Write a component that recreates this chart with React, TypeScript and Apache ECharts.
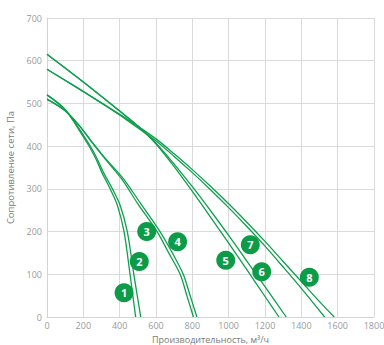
import React, { useEffect, useRef } from "react";
import * as echarts from "echarts";

const xTicks = [0, 200, 400, 600, 800, 1000, 1200, 1400, 1600, 1800];
const yTicks = [0, 100, 200, 300, 400, 500, 600, 700];

const curve1 = [[0, 520], [100, 485], [200, 422], [260, 378], [308, 333], [350, 298], [387, 262], [424, 200], [457, 100], [488, 0]];
const curve2 = [[0, 520], [100, 486], [200, 426], [260, 384], [315, 335], [360, 300], [402, 262], [442, 200], [478, 100], [516, 0]];
const curve3 = [[0, 510], [100, 483], [180, 447], [240, 413], [320, 370], [413, 322], [500, 265], [606, 200], [670, 150], [733, 100], [770, 50], [806, 0]];
const curve4 = [[0, 510], [100, 483], [180, 447], [240, 414], [320, 372], [420, 324], [515, 266], [622, 200], [690, 150], [750, 100], [788, 50], [825, 0]];
const curve5 = [[0, 615], [200, 550], [400, 482], [500, 447], [600, 405], [700, 352], [800, 294], [900, 234], [1000, 173], [1100, 111], [1200, 48], [1277, 0]];
const curve6 = [[0, 615], [200, 550], [400, 482], [500, 447], [600, 407], [700, 358], [800, 305], [900, 249], [1000, 191], [1100, 131], [1200, 71], [1317, 0]];
const curve7 = [[0, 580], [150, 541], [320, 495], [450, 458], [600, 412], [700, 376], [800, 338], [900, 298], [1000, 256], [1100, 212], [1200, 166], [1300, 117], [1400, 67], [1528, 0]];
const curve8 = [[0, 580], [150, 541], [320, 496], [450, 461], [600, 417], [700, 382], [800, 345], [900, 306], [1000, 265], [1100, 222], [1200, 177], [1300, 130], [1400, 83], [1500, 36], [1581, 0]];
const curves = [curve1, curve2, curve3, curve4, curve5, curve6, curve7, curve8];

const labelNames = ["1", "2", "3", "4", "5", "6", "7", "8"];
const labelX = [424, 508, 549, 719, 984, 1182, 1119, 1444];
const labelY = [57, 130, 200, 176, 133, 106, 169, 93];

const LINE = "#0da04c";
const BADGE = "#0c9c48";
const FONT = "Open Sans, Noto Sans, sans-serif";

export default function App() {
  const ref = useRef<HTMLDivElement>(null);
  useEffect(() => {
    if (!ref.current) return;
    const chart = echarts.init(ref.current, undefined, { renderer: "svg" });
    const series: any[] = curves.map((c) => ({
      type: "line",
      data: c,
      smooth: 0.3,
      showSymbol: false,
      symbol: "none",
      lineStyle: { color: LINE, width: 1.3 },
      z: 2,
    }));
    series.push({
      type: "scatter",
      data: labelNames.map((n, i) => ({ value: [labelX[i], labelY[i]], name: n })),
      symbol: "circle",
      symbolSize: 19,
      itemStyle: { color: BADGE, opacity: 1 },
      label: {
        show: true,
        position: "inside",
        formatter: (p: any) => p.name,
        color: "#ffffff",
        fontSize: 11,
        fontWeight: "bold",
        fontFamily: FONT,
      },
      z: 5,
    });
    const axisLabel = {
      color: "#9a9a9a",
      fontSize: 9,
      fontFamily: FONT,
      margin: 4,
      formatter: (v: number) => String(v),
    };
    chart.setOption({
      animation: false,
      grid: { left: 47, right: 10, top: 18, bottom: 28, containLabel: false, outerBoundsMode: "none" },
      xAxis: {
        type: "value",
        min: xTicks[0],
        max: xTicks[xTicks.length - 1],
        interval: 200,
        name: "Производительность, м³/ч",
        nameLocation: "middle",
        nameGap: 12,
        nameTextStyle: { color: "#7a7a7a", fontSize: 9, fontFamily: FONT, lineHeight: 10 },
        axisLine: { show: true, lineStyle: { color: "#d4d4d4", width: 1 } },
        axisTick: { show: false },
        axisLabel,
        splitLine: { show: true, lineStyle: { color: "#dadada", width: 1 } },
      },
      yAxis: {
        type: "value",
        min: yTicks[0],
        max: yTicks[yTicks.length - 1],
        interval: 100,
        name: "Сопротивление сети, Па",
        nameLocation: "middle",
        nameGap: 30,
        nameTextStyle: { color: "#7a7a7a", fontSize: 9.5, fontFamily: FONT },
        axisLine: { show: true, lineStyle: { color: "#d4d4d4", width: 1 } },
        axisTick: { show: false },
        axisLabel: { ...axisLabel, margin: 5 },
        splitLine: { show: true, lineStyle: { color: "#dadada", width: 1 } },
      },
      series,
    });
    return () => chart.dispose();
  }, []);
  return (
    <div
      ref={ref}
      style={{ position: "fixed", left: 0, top: 0, width: 384, height: 345, background: "#fff" }}
    />
  );
}
